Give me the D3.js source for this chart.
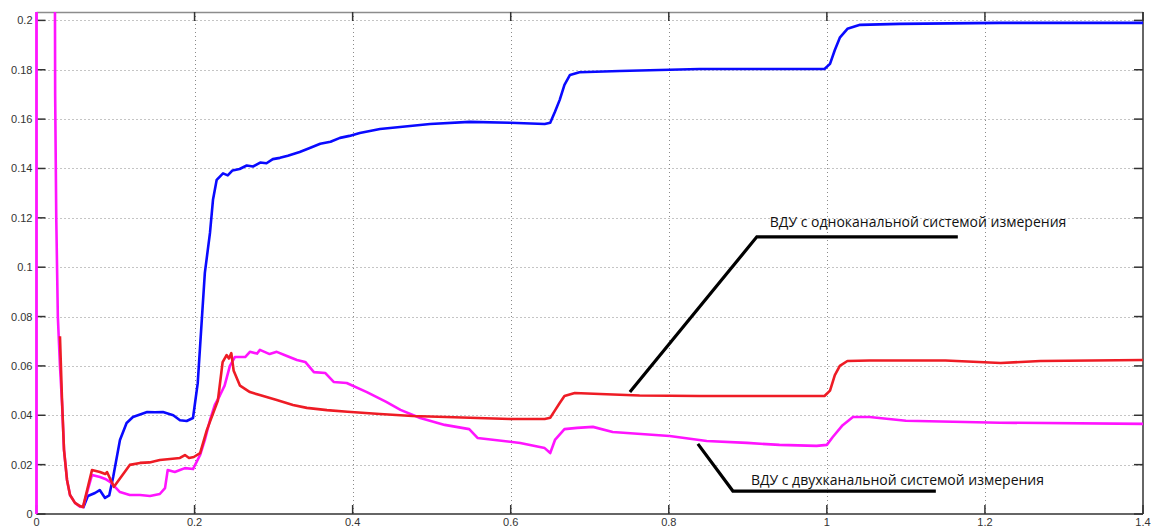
<!DOCTYPE html>
<html>
<head>
<meta charset="utf-8">
<script src="https://cdn.jsdelivr.net/npm/d3@7"></script>
<style>
  body { margin: 0; background: #fff; }
  .tick-label { font-family: "Liberation Sans", Arial, sans-serif; font-size: 11px; fill: #333; }
  .note { font-family: "Open Sans", sans-serif; font-size: 14px; fill: #111; }
</style>
</head>
<body>
<div id="chart"></div>
<script>
// axis ticks
const xTicks = [0, 0.2, 0.4, 0.6, 0.8, 1, 1.2, 1.4];
const yTicks = [0, 0.02, 0.04, 0.06, 0.08, 0.1, 0.12, 0.14, 0.16, 0.18, 0.2];

// blue trace
const blueT = [0.059, 0.065, 0.074, 0.080, 0.0867, 0.092, 0.097, 0.1056, 0.114, 0.122, 0.14, 0.15, 0.16, 0.173, 0.1815, 0.19, 0.198,
  0.204, 0.2094, 0.213, 0.2195, 0.2233, 0.228, 0.236, 0.242, 0.248, 0.257, 0.266, 0.274, 0.283, 0.291, 0.299, 0.308, 0.318, 0.333, 0.345,
  0.359, 0.372, 0.384, 0.396, 0.409, 0.4346, 0.46, 0.498, 0.548, 0.599, 0.643, 0.650, 0.656, 0.662, 0.668, 0.675, 0.687, 0.738, 0.839, 0.966,
  0.997, 1.004, 1.0101, 1.0164, 1.026, 1.042, 1.092, 1.219, 1.4];
const blueV = [0.0024, 0.0073, 0.0085, 0.0097, 0.0065, 0.0075, 0.015, 0.030, 0.0369, 0.0393, 0.0413, 0.0412, 0.0413, 0.040, 0.038, 0.0377, 0.0389,
  0.053, 0.080, 0.0977, 0.1139, 0.1273, 0.1354, 0.138, 0.1372, 0.1392, 0.1398, 0.1412, 0.1408, 0.1424, 0.1421, 0.1438, 0.1443, 0.1452, 0.1467, 0.1482,
  0.150, 0.1508, 0.1524, 0.1532, 0.1544, 0.156, 0.1568, 0.158, 0.1589, 0.1585, 0.158, 0.1585, 0.163, 0.1678, 0.1739, 0.1779, 0.179, 0.1795, 0.1803, 0.1803,
  0.1803, 0.1824, 0.188, 0.193, 0.1966, 0.1982, 0.1986, 0.199, 0.199];

// red trace (single-channel)
const redT = [0.0297, 0.0323, 0.0348, 0.0386, 0.0424, 0.0487, 0.055, 0.0588, 0.0702, 0.0803, 0.087, 0.0892, 0.098, 0.118, 0.131, 0.143, 0.156,
  0.169, 0.1815, 0.1878, 0.193, 0.199, 0.207, 0.2155, 0.2295, 0.2355, 0.2405, 0.2435, 0.2465, 0.2495, 0.2575, 0.27, 0.2825, 0.304, 0.3245,
  0.342, 0.3675, 0.3935, 0.4345, 0.476, 0.5185, 0.558, 0.599, 0.643, 0.65, 0.656, 0.662, 0.668, 0.681, 0.713, 0.763, 0.839, 0.92, 0.997,
  1.004, 1.0101, 1.0164, 1.026, 1.054, 1.15, 1.22, 1.27, 1.4];
const redV = [0.072, 0.046, 0.026, 0.0138, 0.0077, 0.0045, 0.0032, 0.0028, 0.0178, 0.017, 0.0162, 0.017, 0.011, 0.0199, 0.0207, 0.0209, 0.0219,
  0.0223, 0.0227, 0.0239, 0.0227, 0.0231, 0.0247, 0.034, 0.046, 0.0615, 0.0644, 0.063, 0.0652, 0.058, 0.052, 0.0494, 0.0482, 0.0462, 0.0442,
  0.043, 0.0421, 0.0414, 0.0405, 0.0397, 0.0393, 0.0389, 0.0385, 0.0385, 0.039, 0.042, 0.045, 0.0478, 0.049, 0.0486, 0.048, 0.0478, 0.0478, 0.0478,
  0.050, 0.0563, 0.060, 0.062, 0.0622, 0.0622, 0.0612, 0.062, 0.0624];

// magenta trace (two-channel)
const magT = [0, 0, 0.023, 0.0234, 0.0236, 0.025, 0.027, 0.0297, 0.0323, 0.0348, 0.0386, 0.0424, 0.0487, 0.055, 0.0588, 0.0702, 0.0803, 0.087,
  0.093, 0.0993, 0.1056, 0.118, 0.131, 0.1436, 0.156, 0.1626, 0.166, 0.175, 0.1815, 0.1878, 0.198, 0.207, 0.213, 0.2195, 0.2256, 0.232,
  0.238, 0.2447, 0.251, 0.264, 0.27, 0.279, 0.2827, 0.295, 0.304, 0.3168, 0.3295, 0.34, 0.351, 0.3655, 0.376, 0.3925, 0.418, 0.4425, 0.4605,
  0.4855, 0.5165, 0.5475, 0.558, 0.612, 0.643, 0.65, 0.656, 0.668, 0.684, 0.704, 0.729, 0.801, 0.848, 0.899, 0.94, 0.987, 1.0, 1.0075, 1.02,
  1.033, 1.054, 1.1, 1.219, 1.4];
const magV = [0, 0.3, 0.25, 0.2, 0.17, 0.12, 0.08, 0.06, 0.045, 0.026, 0.0138, 0.0077, 0.0045, 0.003, 0.0028, 0.0158, 0.015, 0.0142,
  0.013, 0.011, 0.0089, 0.0077, 0.0077, 0.0073, 0.0081, 0.0105, 0.0178, 0.017, 0.0178, 0.0186, 0.0182, 0.0239, 0.030, 0.038, 0.0442, 0.048,
  0.052, 0.060, 0.0636, 0.0636, 0.0657, 0.065, 0.0665, 0.0648, 0.0657, 0.064, 0.0624, 0.0616, 0.0575, 0.0571, 0.0535, 0.0531, 0.0494, 0.0454, 0.0422,
  0.0389, 0.0361, 0.0344, 0.0308, 0.0288, 0.0267, 0.0247, 0.030, 0.0344, 0.0349, 0.0353, 0.0332, 0.0316, 0.0296, 0.0288, 0.028, 0.0276, 0.028, 0.0312, 0.036,
  0.0393, 0.0393, 0.0378, 0.037, 0.0365];

// callouts: pointer, elbow, end (data units)
const noteOneX = [0.7508, 0.9114, 1.1657];
const noteOneY = [0.0494, 0.1123, 0.1123];
const noteTwoX = [0.8368, 0.8811, 1.1379];
const noteTwoY = [0.0284, 0.0093, 0.0093];
const noteTexts = ["ВДУ с одноканальной системой измерения", "ВДУ с двухканальной системой измерения"];

const W = 1152, H = 530;
const margin = { top: 12, right: 9, bottom: 16, left: 36.5 };

const svg = d3.select("#chart").append("svg")
  .attr("width", W).attr("height", H);

const x = d3.scaleLinear().domain([0, 1.4]).range([margin.left, W - margin.right]);
const y = d3.scaleLinear().domain([0, 0.2034]).range([H - margin.bottom, margin.top]);

const x0 = x.range()[0], x1 = x.range()[1], yb = y.range()[0], yt = y.range()[1];

// grid
const grid = svg.append("g").attr("stroke", "#8a8a8a").attr("stroke-width", 1).attr("stroke-dasharray", "1,3");
grid.selectAll(".gx").data(xTicks.slice(1, -1)).enter().append("line")
  .attr("x1", d => Math.round(x(d)) + 0.5).attr("x2", d => Math.round(x(d)) + 0.5)
  .attr("y1", yt).attr("y2", yb);
grid.selectAll(".gy").data(yTicks.slice(1)).enter().append("line")
  .attr("y1", d => Math.round(y(d)) + 0.5).attr("y2", d => Math.round(y(d)) + 0.5)
  .attr("x1", x0).attr("x2", x1);

// frame
svg.append("line").attr("x1", x0).attr("x2", x1).attr("y1", yt + 0.5).attr("y2", yt + 0.5).attr("stroke", "#8c8c8c").attr("stroke-width", 1.5);
svg.append("line").attr("x1", x1).attr("x2", x1).attr("y1", yt).attr("y2", yb).attr("stroke", "#333").attr("stroke-width", 1.5);

// ticks (inward, all four sides)
const tk = svg.append("g").attr("stroke", "#333").attr("stroke-width", 1.5);
xTicks.forEach(d => {
  tk.append("line").attr("x1", x(d)).attr("x2", x(d)).attr("y1", yb).attr("y2", yb - 9);
  tk.append("line").attr("x1", x(d)).attr("x2", x(d)).attr("y1", yt).attr("y2", yt + 9);
});
yTicks.forEach(d => {
  tk.append("line").attr("y1", y(d)).attr("y2", y(d)).attr("x1", x0).attr("x2", x0 + 9);
  tk.append("line").attr("y1", y(d)).attr("y2", y(d)).attr("x1", x1).attr("x2", x1 - 9);
});

// tick labels
svg.selectAll(".xl").data(xTicks).enter().append("text")
  .attr("class", "tick-label")
  .attr("x", d => x(d)).attr("y", yb + 12)
  .attr("text-anchor", "middle")
  .text(d => d3.format("~g")(d));
svg.selectAll(".yl").data(yTicks).enter().append("text")
  .attr("class", "tick-label")
  .attr("x", x0 - 4).attr("y", d => y(d) + 4)
  .attr("text-anchor", "end")
  .text(d => d3.format("~g")(d));

// clip
svg.append("clipPath").attr("id", "plot").append("rect")
  .attr("x", x0 - 2).attr("y", yt).attr("width", x1 - x0 + 2).attr("height", yb - yt);

const line = d3.line().x(d => x(d[0])).y(d => y(d[1]));
const series = [
  { t: blueT, v: blueV, color: "#0a0aff" },
  { t: magT, v: magV, color: "#ff14ff" },
  { t: redT, v: redV, color: "#ee1c25" }
];
const lines = svg.append("g").attr("clip-path", "url(#plot)");
series.forEach(s => {
  lines.append("path")
    .datum(s.t.map((t, i) => [t, s.v[i]]))
    .attr("d", line)
    .attr("fill", "none")
    .attr("stroke", s.color)
    .attr("stroke-width", 2.6)
    .attr("stroke-linejoin", "round");
});

// left & bottom axis lines
svg.append("line").attr("x1", x0).attr("x2", x1).attr("y1", yb).attr("y2", yb).attr("stroke", "#333").attr("stroke-width", 1.5);
svg.append("line").attr("x1", x0).attr("x2", x0).attr("y1", yt).attr("y2", yb).attr("stroke", "#ff14ff").attr("stroke-width", 2);

// callouts
[[noteOneX, noteOneY, -10], [noteTwoX, noteTwoY, -6]].forEach(([nx, ny, dy], i) => {
  svg.append("path")
    .datum(nx.map((v, j) => [v, ny[j]]))
    .attr("d", line)
    .attr("fill", "none").attr("stroke", "#000").attr("stroke-width", 3.2);
  svg.append("text")
    .attr("class", "note")
    .attr("x", x(nx[1]) + (i === 0 ? 13 : 18))
    .attr("y", y(ny[1]) + dy)
    .text(noteTexts[i]);
});
</script>
</body>
</html>
